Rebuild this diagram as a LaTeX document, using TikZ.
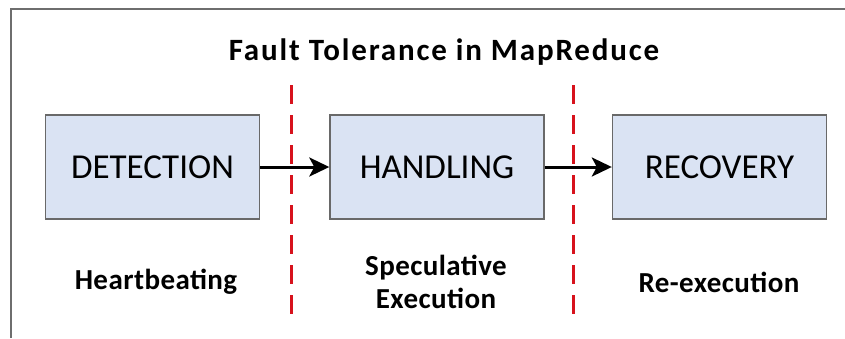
\documentclass[tikz,border=0pt]{standalone}
\usepackage{fontspec}
\setmainfont{Carlito}
\usetikzlibrary{arrows.meta}
\definecolor{boxfill}{RGB}{218,227,243}
\definecolor{boxline}{RGB}{105,105,105}
\definecolor{divred}{RGB}{215,18,28}
\definecolor{framegray}{RGB}{110,110,110}
\tikzset{
  stagebox/.style={draw=boxline, line width=1.4pt, fill=boxfill, minimum width=214pt, minimum height=104pt, inner sep=0pt, font=\fontsize{35}{40}\selectfont},
  flowarrow/.style={line width=3pt, -{Stealth[length=20pt,width=19pt,inset=5pt]}},
  divider/.style={draw=divred, line width=3pt, dash pattern=on 19pt off 11pt},
  labeltext/.style={font=\fontsize{29}{33}\selectfont\bfseries\addfontfeatures{LetterSpace=1.5}, align=center, inner sep=0pt},
  titletext/.style={font=\fontsize{31}{36}\selectfont\bfseries\addfontfeatures{LetterSpace=6}, inner sep=0pt},
  frameline/.style={draw=framegray, line width=1.4pt}
}
\begin{document}
\begin{tikzpicture}[x=1pt,y=-1pt]
\useasboundingbox (0,0) rectangle (845,338);
\fill[white] (0,0) rectangle (845,338);
\coordinate (fa) at (11,338);
\coordinate (fb) at (11,9);
\coordinate (fc) at (845,9);
\draw[frameline] (fa) -- (fb) -- (fc);
\node[titletext] (title) at (444,52) {Fault Tolerance in MapReduce};
\coordinate (d1t) at (291,85);
\coordinate (d1b) at (291,315);
\coordinate (d2t) at (573,85);
\coordinate (d2b) at (573,315);
\node[stagebox] (det) at (152.5,167) {DETECTION};
\node[stagebox] (han) at (437,167) {HANDLING};
\node[stagebox] (rec) at (719.5,167) {RECOVERY};
\draw[flowarrow] (det.east) -- (han.west);
\draw[flowarrow] (han.east) -- (rec.west);
\draw[divider] (d1t) -- (d1b);
\draw[divider] (d2t) -- (d2b);
\node[labeltext] (hb) at (156,282) {Heartbeating};
\node[labeltext] (se) at (436,282) {Speculative\\Execution};
\node[labeltext] (re) at (719,282) {Re-execution};
\end{tikzpicture}
\end{document}
